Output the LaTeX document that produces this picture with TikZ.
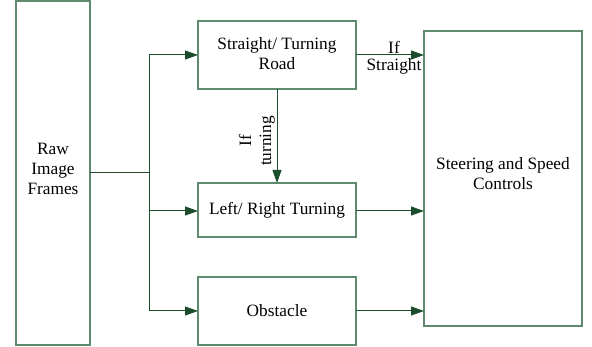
\documentclass[tikz,border=0pt]{standalone}
\usepackage{fontspec}
\setmainfont{Liberation Serif}
\usetikzlibrary{arrows.meta}
\definecolor{boxc}{HTML}{5F8A6E}
\definecolor{arrc}{HTML}{1B4D2C}
\tikzset{
  blk/.style={draw=boxc, line width=1.2pt, fill=white},
  lbl/.style={font=\fontsize{17.3}{20}\selectfont, align=center, inner sep=0pt},
  con/.style={draw=arrc, line width=1pt},
  arr/.style={con, -{Triangle[length=13pt,width=9pt]}},
}
\begin{document}
\begin{tikzpicture}[x=1pt,y=-1pt]
\useasboundingbox (0,0) rectangle (592,347);
% boxes
\draw[blk] (16,1) rectangle (90,345);
\coordinate (rawR) at (90,173);
\draw[blk] (198,21) rectangle (356,89);
\draw[blk] (198,183) rectangle (356,237);
\draw[blk] (198,277) rectangle (356,345);
\draw[blk] (424,31) rectangle (582,326);
\node[lbl] (raw) at (53,169) {Raw\\Image\\Frames};
\node[lbl] (road) at (277,54) {Straight/ Turning\\Road};
\node[lbl] (turn) at (277,210) {Left/ Right Turning};
\node[lbl] (obs) at (277,311) {Obstacle};
\node[lbl] (ctl) at (503,174) {Steering and Speed\\Controls};
% named anchors
\coordinate (roadL) at (198,55);
\coordinate (roadR) at (356,55);
\coordinate (roadB) at (277,89);
\coordinate (turnL) at (198,211);
\coordinate (turnR) at (356,211);
\coordinate (turnT) at (277,183);
\coordinate (obsL) at (198,311);
\coordinate (obsR) at (356,311);
\coordinate (ctl1) at (424,55);
\coordinate (ctl2) at (424,211);
\coordinate (ctl3) at (424,311);
\coordinate (bus) at (149,173);
% connectors
\draw[con] (rawR) -- (bus);
\draw[arr] (bus) |- (roadL);
\draw[arr] (bus) |- (turnL);
\draw[arr] (bus) |- (obsL);
\draw[arr] (roadR) -- (ctl1);
\draw[arr] (turnR) -- (ctl2);
\draw[arr] (obsR) -- (ctl3);
\draw[arr] (roadB) -- (turnT);
% labels
\node[lbl] (ifs) at (394,47) {If};
\node[lbl] (str) at (394,66) {Straight};
\node[lbl, rotate=90] (ift) at (257,141) {If\\turning};
\end{tikzpicture}
\end{document}
